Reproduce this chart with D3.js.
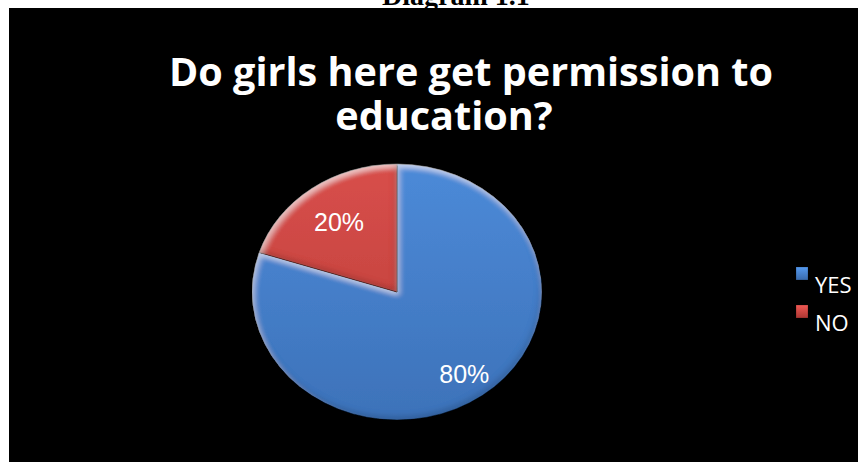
<!DOCTYPE html>
<html>
<head>
<meta charset="utf-8">
<script src="https://cdn.jsdelivr.net/npm/d3@7/dist/d3.min.js"></script>
<style>
  html, body { margin: 0; padding: 0; background: #fff; }
  svg { display: block; }
</style>
</head>
<body>
<script>
// Survey answers
const categories = ["YES", "NO"];
const values = [80, 20];
const labels = ["80%", "20%"];
const titleLines = ["Do girls here get permission to", "education?"];
const caption = "Diagram 1.1";

const W = 859, H = 462;
const svg = d3.select("body").append("svg").attr("width", W).attr("height", H);

const colors = d3.scaleOrdinal().domain(categories).range(["blue", "red"]);
const shades = {
  blue: ["#4c8ad8", "#3d72b9"],
  red:  ["#d84f4b", "#b93b37"]
};

const defs = svg.append("defs");

// Soft bevel: light rim on the upper-left, dark rim on the lower-right
const bevel = defs.append("filter").attr("id", "bevel")
  .attr("x", "-10%").attr("y", "-10%").attr("width", "120%").attr("height", "120%");
bevel.append("feGaussianBlur").attr("in", "SourceAlpha").attr("stdDeviation", 3).attr("result", "blur");
bevel.append("feOffset").attr("in", "blur").attr("dx", 2).attr("dy", 4).attr("result", "offA");
bevel.append("feComposite").attr("in", "SourceAlpha").attr("in2", "offA")
  .attr("operator", "arithmetic").attr("k2", 1).attr("k3", -1).attr("result", "rimA");
bevel.append("feFlood").attr("flood-color", "#ffffff").attr("flood-opacity", 0.5).attr("result", "white");
bevel.append("feComposite").attr("in", "white").attr("in2", "rimA").attr("operator", "in").attr("result", "hl");
bevel.append("feOffset").attr("in", "blur").attr("dx", -2).attr("dy", -4).attr("result", "offB");
bevel.append("feComposite").attr("in", "SourceAlpha").attr("in2", "offB")
  .attr("operator", "arithmetic").attr("k2", 1).attr("k3", -1).attr("result", "rimB");
bevel.append("feFlood").attr("flood-color", "#000000").attr("flood-opacity", 0.3).attr("result", "black");
bevel.append("feComposite").attr("in", "black").attr("in2", "rimB").attr("operator", "in").attr("result", "sh");
const merge = bevel.append("feMerge");
merge.append("feMergeNode").attr("in", "SourceGraphic");
merge.append("feMergeNode").attr("in", "hl");
merge.append("feMergeNode").attr("in", "sh");

// Chart background
svg.append("rect").attr("x", 9).attr("y", 8).attr("width", W - 10).attr("height", H - 8).attr("fill", "#000");

// Caption above the chart area (its top runs off the page)
svg.append("text")
  .attr("x", 456).attr("y", 5)
  .attr("text-anchor", "middle")
  .attr("font-family", "'Liberation Serif', 'Times New Roman', serif")
  .attr("font-weight", "bold")
  .attr("font-size", 28)
  .attr("fill", "#000")
  .text(caption);

// Title
const titlePos = [[471, 86], [444, 130]];
svg.append("g").selectAll("text").data(titleLines).join("text")
  .attr("x", (d, i) => titlePos[i][0])
  .attr("y", (d, i) => titlePos[i][1])
  .attr("text-anchor", "middle")
  .attr("font-family", "'Open Sans', sans-serif")
  .attr("font-weight", "bold")
  .attr("font-size", 39.6)
  .attr("fill", "#fff")
  .text(d => d);

// Pie (slightly flattened ellipse)
const cx = 397, cy = 292, rx = 145, ry = 128;
const pie = d3.pie().sort(null).value(d => d.value);
const data = categories.map((c, i) => ({ cat: c, value: values[i], label: labels[i] }));
const arcs = pie(data);
const arc = d3.arc().innerRadius(0).outerRadius(rx);

categories.forEach(c => {
  const key = colors(c);
  const g = defs.append("linearGradient").attr("id", "grad-" + key)
    .attr("gradientUnits", "userSpaceOnUse")
    .attr("x1", 0).attr("y1", -rx).attr("x2", 0).attr("y2", rx);
  g.append("stop").attr("offset", "0%").attr("stop-color", shades[key][0]);
  g.append("stop").attr("offset", "100%").attr("stop-color", shades[key][1]);
});

const pieG = svg.append("g").attr("transform", `translate(${cx},${cy}) scale(1,${ry / rx})`);
pieG.selectAll("path").data(arcs).join("path")
  .attr("d", arc)
  .attr("fill", d => `url(#grad-${colors(d.data.cat)})`)
  .attr("stroke", "rgba(0,0,0,0.45)")
  .attr("stroke-width", 1)
  .attr("filter", "url(#bevel)");

// Percentage labels inside the slices
const labelArcR = d => (d.data.value > 50 ? 0.79 : 0.68) * rx;
svg.append("g").attr("transform", `translate(${cx},${cy})`)
  .selectAll("text").data(arcs).join("text")
  .attr("x", d => { const a = (d.startAngle + d.endAngle) / 2; return Math.sin(a) * labelArcR(d); })
  .attr("y", d => { const a = (d.startAngle + d.endAngle) / 2; return -Math.cos(a) * labelArcR(d) * ry / rx; })
  .attr("dy", "0.36em")
  .attr("text-anchor", "middle")
  .attr("font-family", "'Liberation Sans', Arial, sans-serif")
  .attr("font-size", 25)
  .attr("fill", "#fff")
  .text(d => d.data.label);

// Legend
const legend = svg.append("g").attr("transform", "translate(796,267)");
const item = legend.selectAll("g").data(categories).join("g")
  .attr("transform", (d, i) => `translate(0,${i * 38})`);
categories.forEach(c => {
  const key = colors(c);
  const g = defs.append("linearGradient").attr("id", "lg-" + key)
    .attr("x1", 0).attr("y1", 0).attr("x2", 0).attr("y2", 1);
  g.append("stop").attr("offset", "0%").attr("stop-color", d3.color(shades[key][0]).brighter(0.3));
  g.append("stop").attr("offset", "100%").attr("stop-color", d3.color(shades[key][1]).darker(0.2));
});
item.append("rect")
  .attr("width", 12).attr("height", 13)
  .attr("fill", d => `url(#lg-${colors(d)})`)
  .attr("stroke", "rgba(0,0,0,0.4)")
  .attr("stroke-width", 0.5);
item.append("text")
  .attr("x", 19).attr("y", 26)
  .attr("font-family", "'Open Sans', sans-serif")
  .attr("font-size", 22)
  .attr("fill", "#fff")
  .text(d => d);
</script>
</body>
</html>
